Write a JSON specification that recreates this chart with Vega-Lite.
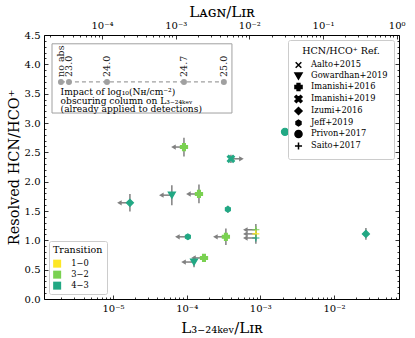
{
  "$schema": "https://vega.github.io/schema/vega-lite/v6.json",
  "width": 355,
  "height": 264,
  "autosize": {"type": "none"},
  "padding": {"left": 44, "top": 35, "right": 16, "bottom": 39},
  "config": {
    "font": "DejaVu Serif",
    "view": {"stroke": "black", "strokeWidth": 1},
    "axis": {"domain": false, "grid": false, "labelFont": "DejaVu Serif", "titleFont": "DejaVu Serif", "labelColor": "black", "titleColor": "black", "tickColor": "black", "tickWidth": 0.8, "titleFontWeight": "normal", "labelFontSize": 10, "labelFlush": false, "labelOverlap": false},
    "legend": {"labelFont": "DejaVu Serif", "titleFont": "DejaVu Serif", "titleFontWeight": "normal", "labelFontSize": 8.3, "titleFontSize": 9.5, "strokeColor": "#cccccc", "fillColor": "white", "padding": 6, "cornerRadius": 2, "labelColor": "black", "titleColor": "black"}
  },
  "datasets": {
    "pts": [
      {"x": 0.00216, "y": 2.85, "yerr": 0, "ref": "Privon+2017", "trans": "4−3", "lim": "none"},
      {"x": 0.000092, "y": 2.59, "yerr": 0.16, "ref": "Imanishi+2016", "trans": "3−2", "lim": "left"},
      {"x": 0.000399, "y": 2.39, "yerr": 0.07, "ref": "Imanishi+2019", "trans": "4−3", "lim": "right"},
      {"x": 0.000063, "y": 1.77, "yerr": 0.17, "ref": "Gowardhan+2019", "trans": "4−3", "lim": "left"},
      {"x": 0.000147, "y": 1.79, "yerr": 0.16, "ref": "Imanishi+2016", "trans": "3−2", "lim": "left"},
      {"x": 0.000017, "y": 1.64, "yerr": 0.15, "ref": "Izumi+2016", "trans": "4−3", "lim": "left"},
      {"x": 0.000363, "y": 1.53, "yerr": 0.06, "ref": "Jeff+2019", "trans": "4−3", "lim": "none"},
      {"x": 0.000104, "y": 1.06, "yerr": 0, "ref": "Jeff+2019", "trans": "4−3", "lim": "left"},
      {"x": 0.000341, "y": 1.06, "yerr": 0.14, "ref": "Imanishi+2016", "trans": "3−2", "lim": "left"},
      {"x": 0.000126, "y": 0.63, "yerr": 0.09, "ref": "Gowardhan+2019", "trans": "4−3", "lim": "left"},
      {"x": 0.000172, "y": 0.70, "yerr": 0, "ref": "Imanishi+2016", "trans": "3−2", "lim": "left"},
      {"x": 0.00087, "y": 1.18, "yerr": 0.1, "ref": "Saito+2017", "trans": "3−2", "lim": "left"},
      {"x": 0.00087, "y": 1.11, "yerr": 0.1, "ref": "Saito+2017", "trans": "1−0", "lim": "left"},
      {"x": 0.00087, "y": 1.04, "yerr": 0.1, "ref": "Saito+2017", "trans": "4−3", "lim": "left"},
      {"x": 0.0271, "y": 1.11, "yerr": 0.1, "ref": "Izumi+2016", "trans": "4−3", "lim": "none"}
    ],
    "nh": [
      {"x": 0.00000197, "y": 3.70, "lab": "no abs"},
      {"x": 0.00000253, "y": 3.70, "lab": "23.0"},
      {"x": 0.0000083, "y": 3.70, "lab": "24.0"},
      {"x": 0.000092, "y": 3.70, "lab": "24.7"},
      {"x": 0.00032, "y": 3.70, "lab": "25.0"}
    ]
  },
  "resolve": {"scale": {"x": "independent"}, "axis": {"x": "independent", "y": "independent"}},
  "layer": [
    {
      "resolve": {"scale": {"x": "shared", "y": "shared"}, "axis": {"x": "independent", "y": "independent"}},
      "layer": [
        {
          "data": {"values": [{}]},
          "mark": {"type": "rect", "fill": "white", "stroke": "#a0a0a0", "strokeWidth": 1},
          "encoding": {
            "x": {"datum": 0.00000149, "type": "quantitative", "axis": null},
            "x2": {"datum": 0.000412},
            "y": {"datum": 3.17, "type": "quantitative", "axis": null},
            "y2": {"datum": 4.35}
          }
        },
        {
          "data": {"name": "nh"},
          "mark": {"type": "line", "color": "#a0a0a0", "strokeDash": [4, 3], "strokeWidth": 1.3},
          "encoding": {
            "x": {"field": "x", "type": "quantitative", "axis": null},
            "y": {"field": "y", "type": "quantitative", "axis": null}
          }
        },
        {
          "data": {"name": "nh"},
          "mark": {"type": "point", "filled": true, "color": "#a0a0a0", "opacity": 1, "size": 36},
          "encoding": {
            "x": {"field": "x", "type": "quantitative", "axis": null},
            "y": {"field": "y", "type": "quantitative", "axis": null}
          }
        },
        {
          "data": {"name": "nh"},
          "mark": {"type": "text", "angle": 270, "align": "left", "baseline": "middle", "dx": 5, "fontSize": 9.5, "color": "#222222"},
          "encoding": {
            "x": {"field": "x", "type": "quantitative", "axis": null},
            "y": {"field": "y", "type": "quantitative", "axis": null},
            "text": {"field": "lab"}
          }
        },
        {
          "data": {"values": [{}]},
          "mark": {"type": "text", "align": "left", "baseline": "middle", "fontSize": 9.1, "lineHeight": 8.7, "color": "black",
            "text": ["Impact of log₁₀(Nʜ/cm⁻²)", "obscuring column on L₃₋₂₄ₖₑᵥ", "(already applied to detections)"]},
          "encoding": {
            "x": {"datum": 0.00000195, "type": "quantitative", "axis": null},
            "y": {"datum": 3.53, "type": "quantitative", "axis": null}
          }
        },
        {
          "data": {"name": "pts"},
          "transform": [
            {"filter": "datum.yerr > 0"},
            {"calculate": "datum.y - datum.yerr", "as": "lo"},
            {"calculate": "datum.y + datum.yerr", "as": "hi"}
          ],
          "mark": {"type": "rule", "color": "#808080", "strokeWidth": 1.5},
          "encoding": {
            "x": {"field": "x", "type": "quantitative",
              "axis": {"orient": "bottom", "values": [0.000002,0.000003,0.000004,0.000005,0.000006,0.000007,0.000008,0.000009,0.00002,0.00003,0.00004,0.00005,0.00006,0.00007,0.00008,0.00009,0.0002,0.0003,0.0004,0.0005,0.0006,0.0007,0.0008,0.0009,0.002,0.003,0.004,0.005,0.006,0.007,0.008,0.009,0.02,0.03,0.04,0.05,0.06,0.07], "labels": false, "tickSize": -2, "title": null}},
            "y": {"field": "lo", "type": "quantitative",
              "axis": {"orient": "left", "values": [0.1,0.2,0.3,0.4,0.6,0.7,0.8,0.9,1.1,1.2,1.3,1.4,1.6,1.7,1.8,1.9,2.1,2.2,2.3,2.4,2.6,2.7,2.8,2.9,3.1,3.2,3.3,3.4,3.6,3.7,3.8,3.9,4.1,4.2,4.3,4.4], "labels": false, "tickSize": -2, "title": null}},
            "y2": {"field": "hi"}
          }
        },
        {
          "data": {"name": "pts"},
          "transform": [
            {"filter": "datum.lim != 'none'"},
            {"calculate": "datum.lim == 'left' ? datum.x * 0.72 : datum.x / 0.72", "as": "xe"}
          ],
          "mark": {"type": "rule", "color": "#808080", "strokeWidth": 1.5},
          "encoding": {
            "x": {"field": "x", "type": "quantitative", "axis": null},
            "x2": {"field": "xe"},
            "y": {"field": "y", "type": "quantitative",
              "axis": {"orient": "right", "values": [0,0.5,1,1.5,2,2.5,3,3.5,4,4.5], "labels": false, "tickSize": -4, "title": null}}
          }
        },
        {
          "data": {"name": "pts"},
          "transform": [
            {"filter": "datum.lim == 'left'"},
            {"calculate": "datum.x * 0.72", "as": "xe"}
          ],
          "mark": {"type": "point", "shape": "triangle-left", "filled": true, "color": "#808080", "opacity": 1, "size": 28},
          "encoding": {
            "x": {"field": "xe", "type": "quantitative", "axis": null},
            "y": {"field": "y", "type": "quantitative",
              "axis": {"orient": "right", "values": [0.1,0.2,0.3,0.4,0.6,0.7,0.8,0.9,1.1,1.2,1.3,1.4,1.6,1.7,1.8,1.9,2.1,2.2,2.3,2.4,2.6,2.7,2.8,2.9,3.1,3.2,3.3,3.4,3.6,3.7,3.8,3.9,4.1,4.2,4.3,4.4], "labels": false, "tickSize": -2, "title": null}}
          }
        },
        {
          "data": {"name": "pts"},
          "transform": [
            {"filter": "datum.lim == 'right'"},
            {"calculate": "datum.x / 0.72", "as": "xe"}
          ],
          "mark": {"type": "point", "shape": "triangle-right", "filled": true, "color": "#808080", "opacity": 1, "size": 28},
          "encoding": {
            "x": {"field": "xe", "type": "quantitative", "axis": null},
            "y": {"field": "y", "type": "quantitative", "axis": null}
          }
        },
        {
          "data": {"name": "pts"},
          "mark": {"type": "point", "filled": true, "opacity": 1, "size": 50, "strokeWidth": 1.2},
          "encoding": {
            "x": {"field": "x", "type": "quantitative",
              "scale": {"type": "log", "domain": [0.00000116, 0.0762], "nice": false},
              "axis": {"orient": "bottom", "values": [0.00001, 0.0001, 0.001, 0.01], "tickSize": -4, "labelPadding": 8, "labelFontSize": 10,
                "labelExpr": "datum.value < 0.00005 ? '10⁻⁵' : datum.value < 0.0005 ? '10⁻⁴' : datum.value < 0.005 ? '10⁻³' : '10⁻²'",
                "title": "L₃₋₂₄ₖₑᵥ/Lɪʀ", "titleFontSize": 15, "titlePadding": 7}},
            "y": {"field": "y", "type": "quantitative",
              "scale": {"domain": [0, 4.5], "nice": false, "zero": false},
              "axis": {"orient": "left", "values": [0,0.5,1,1.5,2,2.5,3,3.5,4,4.5], "format": ".1f", "tickSize": -4, "labelPadding": 8,
                "title": "Resolved HCN/HCO⁺", "titleFontSize": 14.5, "titlePadding": 3}},
            "color": {"field": "trans", "type": "nominal",
              "scale": {"domain": ["1−0", "3−2", "4−3"], "range": ["#fde725", "#7ad151", "#22a884"]},
              "legend": {"title": "Transition", "orient": "bottom-left", "offset": 5, "symbolType": "square", "symbolSize": 64, "symbolStrokeWidth": 0, "rowPadding": 1, "labelOffset": 10, "padding": 4}},
            "stroke": {"field": "trans", "type": "nominal",
              "scale": {"domain": ["1−0", "3−2", "4−3"], "range": ["#fde725", "#7ad151", "#22a884"]},
              "legend": null},
            "shape": {"field": "ref", "type": "nominal",
              "scale": {"domain": ["Aalto+2015", "Gowardhan+2019", "Imanishi+2016", "Imanishi+2019", "Izumi+2016", "Jeff+2019", "Privon+2017", "Saito+2017"],
                "range": ["M-0.8,-0.8L0.8,0.8M-0.8,0.8L0.8,-0.8", "triangle-down", "cross", "M-1,-0.6L-0.6,-1L0,-0.4L0.6,-1L1,-0.6L0.4,0L1,0.6L0.6,1L0,0.4L-0.6,1L-1,0.6L-0.4,0Z", "diamond", "M0,-0.8L0.7,-0.4L0.7,0.4L0,0.8L-0.7,0.4L-0.7,-0.4Z", "circle", "M-1,0L1,0M0,-1L0,1"]},
              "legend": {"title": "HCN/HCO⁺ Ref.", "orient": "top-right", "offset": 5, "symbolFillColor": "black", "symbolStrokeColor": "black", "symbolStrokeWidth": 1.5, "symbolSize": 50, "titleAnchor": "middle", "rowPadding": -3, "labelOffset": 8}}
          }
        }
      ]
    },
    {
      "data": {"values": [{"t": 0.001}]},
      "mark": {"type": "point", "opacity": 0},
      "encoding": {
        "x": {"field": "t", "type": "quantitative",
          "scale": {"type": "log", "domain": [0.00001634, 1.074], "nice": false},
          "axis": {"orient": "top", "values": [0.0001, 0.001, 0.01, 0.1, 1], "tickSize": -4, "labelPadding": 9,
            "labelExpr": "datum.value < 0.0005 ? '10⁻⁴' : datum.value < 0.005 ? '10⁻³' : datum.value < 0.05 ? '10⁻²' : datum.value < 0.5 ? '10⁻¹' : '10⁰'",
            "title": "Lᴀɢɴ/Lɪʀ", "titleFontSize": 15, "titlePadding": 1}}
      }
    },
    {
      "data": {"values": [{"t": 0.001}]},
      "mark": {"type": "point", "opacity": 0},
      "encoding": {
        "x": {"field": "t", "type": "quantitative",
          "scale": {"type": "log", "domain": [0.00001634, 1.074], "nice": false},
          "axis": {"orient": "top", "values": [0.00002,0.00003,0.00004,0.00005,0.00006,0.00007,0.00008,0.00009,0.0002,0.0003,0.0004,0.0005,0.0006,0.0007,0.0008,0.0009,0.002,0.003,0.004,0.005,0.006,0.007,0.008,0.009,0.02,0.03,0.04,0.05,0.06,0.07,0.08,0.09,0.2,0.3,0.4,0.5,0.6,0.7,0.8,0.9], "labels": false, "tickSize": -2, "title": null}}
      }
    }
  ]
}
